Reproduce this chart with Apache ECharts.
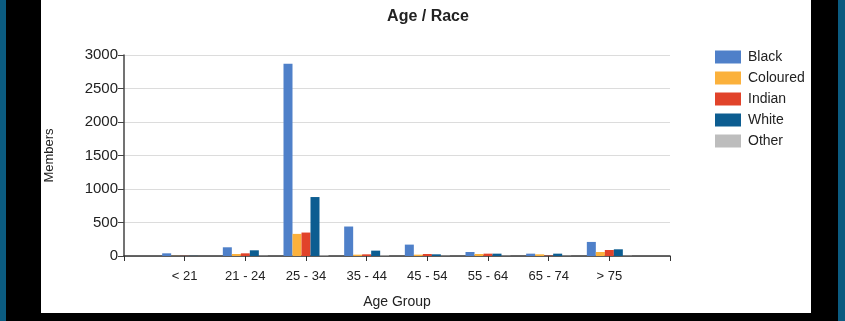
<!DOCTYPE html>
<html>
<head>
<meta charset="utf-8">
<script src="https://cdn.jsdelivr.net/npm/echarts@6/dist/echarts.min.js"></script>
<style>
  html, body { margin: 0; padding: 0; background: #000; }
  #wrap { position: relative; width: 845px; height: 321px; background: #000; overflow: hidden; }
  #tl { position: absolute; left: 0; top: 0; width: 6px; height: 321px; background: #0b5b80; }
  #tr { position: absolute; left: 838px; top: 0; width: 7px; height: 321px; background: #0b5b80; }
  #panel { position: absolute; left: 41px; top: 0; width: 770px; height: 313px; background: #fff; }
  #chart { position: absolute; left: 0; top: 0; width: 845px; height: 321px; }
</style>
</head>
<body>
<div id="wrap">
  <div id="tl"></div><div id="tr"></div><div id="panel"></div>
  <div id="chart"></div>
</div>
<script>
const categories = ['< 21', '21 - 24', '25 - 34', '35 - 44', '45 - 54', '55 - 64', '65 - 74', '> 75'];
const seriesNames = ['Black', 'Coloured', 'Indian', 'White', 'Other'];
const black    = [40, 130, 2870, 440, 170, 60, 35, 210];
const coloured = [2, 30, 330, 20, 20, 30, 25, 60];
const indian   = [2, 40, 350, 25, 30, 35, 5, 90];
const white    = [2, 85, 880, 80, 25, 35, 35, 100];
const other    = [0, 5, 10, 10, 5, 5, 5, 5];
const yTicks = [0, 500, 1000, 1500, 2000, 2500, 3000];

const colors = ['#4f80c9', '#fbb13c', '#e1432a', '#0c5d91', '#bdbdbd'];
const values = [black, coloured, indian, white, other];

// pad with blank endpoints so the category points sit inside the axis like the reference
const axisCats = [''].concat(categories, ['']);
const pad = arr => [null].concat(arr, [null]);

const chart = echarts.init(document.getElementById('chart'));
chart.setOption({
  backgroundColor: 'transparent',
  animation: false,
  textStyle: { fontFamily: 'Liberation Sans, Arial, sans-serif' },
  title: {
    text: 'Age / Race', left: 423, top: 4, textAlign: 'center',
    textStyle: { fontSize: 16, fontWeight: 'bold', color: '#222', fontFamily: 'Liberation Sans, Arial, sans-serif' }
  },
  color: colors,
  legend: {
    orient: 'vertical', left: 710, top: 45,
    itemWidth: 26, itemHeight: 13, itemGap: 7, icon: 'rect',
    data: seriesNames,
    textStyle: { fontSize: 14, color: '#222', padding: [0, 0, 0, 2] }
  },
  grid: { left: 124, right: 175, top: 55, bottom: 65 },
  xAxis: {
    type: 'category', data: axisCats, boundaryGap: false,
    name: 'Age Group', nameLocation: 'middle', nameGap: 39,
    nameTextStyle: { fontSize: 14, color: '#222' },
    axisLine: { lineStyle: { color: '#333', width: 1.5 } },
    axisTick: { show: true, length: 5, lineStyle: { color: '#333' } },
    axisLabel: { interval: 0, fontSize: 13, color: '#222', margin: 14 },
    splitLine: { show: false }
  },
  yAxis: {
    type: 'value', min: yTicks[0], max: yTicks[yTicks.length - 1], interval: 500,
    name: 'Members', nameLocation: 'middle', nameGap: 68, nameRotate: 90,
    nameTextStyle: { fontSize: 13, color: '#222' },
    axisLine: { show: true, lineStyle: { color: '#444', width: 1.5 } },
    axisTick: { show: true, length: 6, lineStyle: { color: '#444' } },
    axisLabel: { fontSize: 15, color: '#222', margin: 6, formatter: v => String(v) },
    splitLine: { lineStyle: { color: '#dcdcdc' } }
  },
  series: seriesNames.map((n, i) => ({
    name: n, type: 'bar', data: pad(values[i]),
    barWidth: 9, barGap: '0%',
    itemStyle: { color: colors[i] }
  }))
});
</script>
</body>
</html>
